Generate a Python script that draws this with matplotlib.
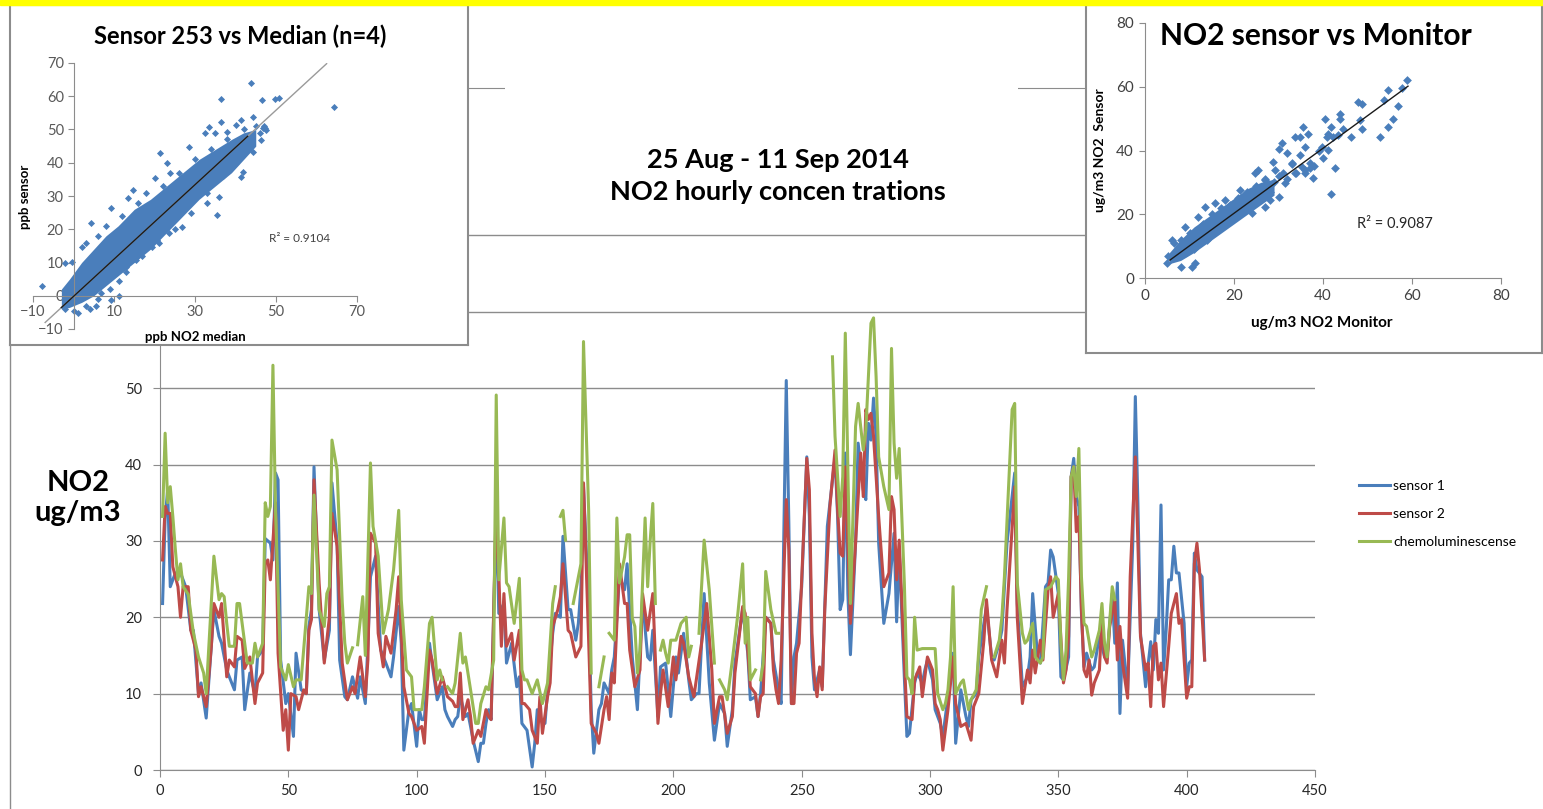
import numpy as np
import matplotlib
matplotlib.use("Agg")
import matplotlib.pyplot as plt
from matplotlib.lines import Line2D
from matplotlib.patches import Rectangle

plt.rcParams["font.family"] = ["Lato", "DejaVu Sans"]

W, H = 1543, 809


def fx(px):
    return px / W


def fy(py):
    return 1 - py / H


nan = float("nan")

# ---------- main chart: hourly NO2 (hour index, ug/m3)
s1_hours = [1, 2, 3, 4, 6, 8, 10, 12, 13, 15, 16, 18, 21, 23, 24, 26, 27, 29, 30, 32, 33, 35, 37, 38, 40, 41, 43, 44, 45, 46, 47, 49, 50, 52, 53, 55, 57,
            58, 59, 60, 62, 64, 66, 67, 69, 70, 72, 73, 75, 77, 78, 80, 81, 82, 84, 86, 88, 90, 91, 93, 94, 95, 97, 98, 100, 101, 102, 103, 105, 106, 108, 110, 111, 112, 114,
            115, 116, 117, 119, 120, 121, 122, 124, 125, 126, 127, 128, 129, 131, 132, 134, 135, 137, 139, 140, 141, 143, 145, 146, 147, 149, 150, 151, 153, 154, 156, 157, 159, 160, 162, 163, 164, 165, 167, 168, 169, 171, 172, 173,
            175, 176, 177, 179, 181, 182, 184, 186, 188, 190, 191, 192, 194, 195, 197, 199, 201, 202, 204, 206, 207, 209, 210, 212, 214, 216, 218, 220, 221, 223, 224, 227, 229, 230, 232,
            233, 234, 236, 238, 239, 241, 242, 244, 245, 246, 247, 248, 250, 252, 253, 254, 255, 257, 258, 260, 263, 264, 265, 266, 267, 268, 269, 271, 272, 274, 275, 276, 277, 278, 279, 280, 282, 284, 286, 287, 288, 290,
            291, 292, 294, 295, 297, 298, 299, 301, 302, 304, 305, 307, 309, 310, 312, 314, 315, 316, 318, 319, 322, 324, 325, 327, 328, 330, 333, 334, 336, 338, 339, 340, 342, 343, 345, 346, 347, 348,
            350, 351, 352, 354, 355, 356, 357, 358, 359, 360, 361, 363, 364, 366, 367, 368, 369, 371, 372, 373, 374, 375, 377, 379, 380, 381, 382, 384, 386, 387, 388, 389, 390, 391, 392, 393, 394, 395, 396, 397, 399, 400, 401, 402, 403, 404, 406, 407]
s1_vals = [21.8, 33, 36.7, 24, 25.8, 25.8, 24, 18.3, 18.3, 10, 11.4, 6.8, 21, 17.5, 16.6, 13.1, 12.2, 10.5, 14.4, 14.8, 7.9, 12.7, 10, 14.8, 15.7, 30.3, 29.7, 27.5, 38.9, 38, 14.4, 8.7, 10, 4.4, 15.3, 10.5, 10,
           18.8, 21, 39.7, 21, 14.4, 18.3, 37.6, 29.7, 14.4, 9.6, 9.2, 12.2, 9.4, 12.2, 8.7, 16.6, 25.3, 28, 15.7, 14, 12.2, 14.8, 21.4, 16.6, 2.6, 7.9, 8.7, 3.1, 7.9, 6.6, 6.6, 16.6, 14, 9.2, 10.9, 7.9, 7, 5.7,
           6.6, 7, 9.6, 7, 7.4, 5.7, 3.9, 1.1, 3.5, 3.5, 6.1, 7.9, 6.6, 34, 20.5, 21.8, 14, 16.6, 10.9, 12.2, 6.1, 5.2, 0.4, 3.5, 7.9, 6.1, 6.1, 10.5, 17.9, 20.5, 20, 30.6, 21, 21, 17, 19.2, 24, 37.1, 21.8, 7.9, 2.2, 7.9, 8.7, 11.4,
           10, 13.1, 14.8, 25.3, 23.6, 27, 14.8, 7.9, 22.3, 14.8, 14.4, 18.3, 7, 13.5, 14, 7, 14.8, 12.7, 17.9, 11.8, 9.2, 10, 10, 23.1, 11.4, 3.9, 8.7, 7.4, 3.1, 7.9, 14, 21, 15.3, 9.2, 9.6,
           7, 10, 20, 19.2, 14.4, 10.5, 8.7, 51, 32.3, 8.7, 14.8, 16.6, 24, 41, 33.2, 14.8, 10.5, 13.1, 10.9, 31.9, 41, 33.2, 21, 22.3, 41.5, 23.1, 15.1, 29.7, 42.8, 36.7, 35.4, 45.4, 43.2, 48.7, 43.7, 29.7, 19.2, 23.1, 31, 19.4, 28.8, 12.2,
           4.4, 4.8, 11.4, 12.7, 11.4, 13.1, 14.4, 11.8, 7.9, 6.1, 4.4, 9.6, 15.3, 3.5, 10.5, 7, 5.7, 9.2, 10, 14.8, 21.4, 14.8, 14.4, 16.6, 18.3, 29.7, 38.9, 21.8, 10.9, 12.2, 14.8, 23.1, 14.4, 14, 24, 24.5, 28.8, 27.9,
           23.1, 12.2, 11.8, 14.8, 38.4, 40.8, 35.8, 34.5, 20.5, 13.5, 15.3, 13.1, 13.5, 17.5, 16.2, 14.8, 14.8, 23.1, 16.6, 24.5, 7.4, 17, 10.5, 29.7, 48.9, 34.9, 17.9, 10.9, 16.8, 13.1, 19.7, 17.9, 34.7, 13.1, 18.3, 24.9, 24.9, 29.3, 25.8, 25.8, 19.2, 10.9, 14, 14.4, 28.4, 26.2, 25.3, 14.4]

s2_hours = [1, 2, 3, 4, 5, 6, 7, 8, 9, 11, 12, 14, 15, 16, 18, 20, 21, 23, 24, 26, 27, 29, 30, 32, 33, 35, 37, 38, 40, 41, 42, 43, 45, 46, 48, 49, 50, 51, 53, 54, 56,
            57, 58, 59, 60, 62, 64, 66, 67, 69, 71, 73, 75, 76, 78, 80, 81, 82, 84, 85, 87, 88, 90, 92, 93, 95, 97, 98, 100, 102, 103, 105, 106, 108, 110, 112, 114,
            115, 116, 117, 118, 120, 121, 122, 124, 125, 127, 128, 129, 131, 133, 134, 135, 137, 138, 140, 141, 142, 144, 145, 147, 148, 149, 151, 152, 153, 155, 156, 157, 159, 160, 162, 164, 165, 167, 168, 170, 171, 173,
            174, 175, 176, 177, 179, 181, 182, 183, 185, 187, 188, 190, 192, 194, 195, 196, 198, 200, 201, 203, 204, 206, 208, 211, 213, 215, 216, 218, 219, 221, 223, 224, 227, 228, 230, 232,
            233, 234, 235, 236, 238, 239, 240, 241, 242, 244, 245, 246, 247, 248, 249, 250, 252, 253, 254, 255, 256, 257, 258, 259, 261, 263, 264, 265, 266, 267, 268, 269, 271, 273, 274, 275, 276, 277, 278, 280, 282, 284, 285, 286, 287, 288, 290,
            291, 293, 294, 296, 297, 299, 301, 302, 303, 304, 305, 307, 309, 310, 312, 314, 316, 317, 319, 321, 322, 324, 326, 328, 329, 330, 333, 334, 336, 338, 339, 340, 341, 343, 344, 346, 347, 348,
            350, 352, 353, 354, 355, 356, 357, 358, 359, 360, 361, 362, 363, 364, 366, 367, 368, 369, 370, 372, 373, 374, 375, 377, 378, 380, 381, 382, 384, 385, 386, 387, 388, 389, 390, 391, 393, 394, 396, 397, 398, 400, 401, 402, 403, 404, 405, 407]
s2_vals = [27.5, 34.5, 33.6, 33.6, 26.6, 25.3, 24, 20, 24, 24, 18.3, 15.7, 9.6, 10.9, 8.3, 16.2, 21.8, 20, 21.8, 12.2, 14.4, 13.5, 17.5, 17, 13.3, 14.8, 8.7, 11.4, 12.7, 27, 27.5, 24.9, 35, 15.3, 5.2, 7.9, 2.6, 10, 9.6, 7.9, 10.5,
           10, 18.3, 19.7, 38, 24.5, 14, 20, 33.6, 29.3, 14, 9.2, 10.9, 10, 14.8, 9.6, 14.4, 31, 29.7, 17.9, 13.5, 17.5, 15.3, 21, 25.3, 10.9, 7.4, 7, 5.2, 5.7, 3.5, 15.7, 14.4, 10, 12.2, 9.6, 9,
           8.3, 8.3, 12.7, 6.6, 9.2, 7, 3.5, 5.2, 4.4, 7.9, 7, 6.6, 35, 16.2, 23.1, 16.2, 17.9, 14.4, 18.3, 8.7, 8.7, 7.9, 5.2, 3.5, 9.6, 4.8, 9.6, 11.4, 18.8, 21, 22.7, 27, 18.3, 17.9, 14.8, 16.2, 37.6, 17, 6.1, 4.8, 3.5, 7.9,
           9.6, 6.6, 12.7, 11.4, 27, 21.8, 21.8, 15.7, 10.9, 13.1, 23.1, 18.3, 23.1, 6.1, 10, 13.1, 8.3, 14.8, 11.8, 17.5, 16.6, 12.2, 9.6, 16.6, 21.8, 13.1, 6.1, 9.6, 9.6, 4.8, 7, 12.7, 21.4, 20.5, 10.9, 10,
           7, 9.6, 10, 20, 19.2, 13.1, 10.5, 8.7, 14.4, 35.4, 28.8, 8.7, 8.7, 15.3, 16.6, 24.9, 40.8, 36.7, 17.9, 11.8, 9.6, 13.5, 10.5, 21, 34.5, 41.9, 34.1, 28.4, 28, 39.7, 29.7, 19.2, 29.7, 41.5, 35.8, 47.2, 45.9, 46.7, 43.7, 33.2, 24, 25.8, 35.8, 34.1, 24.9, 30.1, 14.4,
           7, 6.6, 11.8, 13.5, 9.6, 14.8, 13.1, 8.7, 7.9, 6.6, 2.6, 7.9, 14.8, 8.7, 5.7, 6.1, 3.9, 8.3, 10, 17, 22.3, 14.4, 12.2, 17, 14, 21, 37.1, 20, 8.7, 13.1, 11.4, 15.7, 12.7, 17, 14.4, 23.6, 25.3, 20,
           23.1, 11.4, 13.1, 17.5, 38.4, 39.7, 31.2, 33.2, 21, 13.1, 12.2, 14.4, 9.8, 11.4, 13.1, 20, 14.8, 14, 18.8, 22.3, 14.4, 18.8, 14, 9.4, 25.3, 41, 29.7, 17.5, 13.1, 14, 8.3, 16.2, 16.6, 11.8, 14, 8.3, 16.2, 20.5, 23.1, 19.2, 19.7, 9.4, 10.9, 10.9, 27, 29.7, 26.2, 14.4]

# chemoluminescense monitor, nan = missing hours
s3_hours = [1, 2, 3, 4, 5, 6, 7, 8, 9, 11, 13, 15, 17, 18, 21, 23, 24, 25, 26, 27, 29, 30, 31, 32, 34, 36, 37, 38, 40, 41, 42, 43, 44, 45, 47, 49, 50, 52, 53, 55, 57,
            58, 59, 60, 62, 64, 65, 66, 67, 69, 71, 72, 73, 75, 76, 77, 79, 80, 82, 83, 85, 87, 89, 91, 93, 94, 96, 98, 99, 102, 103, 105, 106, 108, 109, 110, 111, 112, 114,
            115, 117, 118, 119, 121, 123, 124, 125, 127, 128, 130, 131, 132, 134, 135, 136, 138, 140, 141, 142, 143, 145, 147, 149, 151, 153, 154, 155, 156, 157, 158, 160, 161, 164, 165, 167, 168, 169, 171, 173,
            174, 175, 177, 178, 179, 181, 182, 183, 184, 185, 186, 187, 189, 190, 191, 192, 193, 194, 195, 196, 197, 198, 199, 201, 203, 205, 206, 207, 208, 210, 212, 214, 216, 217, 218, 220, 221, 223, 225, 227, 228, 229, 230, 232,
            233, 234, 235, 236, 238, 240, 241, 242, 262, 263, 265, 266, 267, 269, 271, 272, 274, 275, 277, 278, 279, 280, 282, 284, 285, 286, 287, 288, 290,
            291, 292, 293, 294, 295, 297, 299, 301, 302, 303, 305, 306, 307, 308, 309, 310, 312, 313, 315, 316, 318, 320, 322, 323, 325, 327, 328, 329, 332, 333, 334, 336, 337, 338, 340, 341, 343, 344, 345, 347,
            349, 350, 351, 352, 353, 354, 355, 356, 357, 358, 359, 360, 361, 363, 364, 366, 367, 368, 369, 371, 372]
s3_vals = [33.2, 44.1, 35, 37.1, 33.2, 28.8, 24.9, 27, 24, 23, 18, 14.8, 12.7, 10, 28, 22.3, 23.1, 22.7, 19.2, 16.2, 16.2, 21.8, 21.8, 19.2, 14, 14, 16.6, 14.8, 16.6, 35, 33.2, 34.5, 53, 34, 13.5, 11.8, 13.8, 10.9, 11.8, 11.8, 20,
           24, 23.1, 36, 21, 18.8, 23.1, 24, 43.2, 39.3, 22, 16.6, 14, 16, nan, 16.4, 22.7, 15, 40.2, 31.9, 28, 17.9, 21, 26.2, 34, 22.3, 13.1, 12.2, 7.9, 7.9, 10.9, 19.2, 20, 11.8, 13.1, 11.8, nan, 10.9, 10,
           11.4, 17.9, 14, 14.8, 10.5, 6.1, 6.1, 8.7, 10.9, 10.5, 14.4, 49.1, 24.9, 33, 24.5, 24, 19.2, 25.1, 13.1, 11.8, 11.8, 10, 11.8, 8.7, 11.4, 21.8, 24, nan, 33.2, 34, 30.1, nan, 21.8, 27, 56.1, 34, 12.7, nan, 10.9, 14.8,
           nan, 17.9, 17, 33, 24.5, 27.9, 30.8, 30.8, 19.9, 18.8, 12.7, 15.7, 33, 24, 30.1, 34.9, 21.8, nan, 15.7, 17, 15.3, 14, 17, 17, 19.2, 20, 14.8, 16.2, nan, 17.9, 30.1, 23.6, 14, nan, 11.8, 10.5, 9.2, 14.4, 20, 27, 16.6, 20, 11.8, 13.1,
           nan, 11.8, 14, 26, 21, 17.9, 17.9, nan, 54.1, 43.7, 33.2, 38.4, 57.2, 21.8, 45, 48, 41.9, 44.5, 58.5, 59.2, 51.5, 41, 37.1, 34.1, 55.2, 42.8, 38.2, 42.1, 24.5,
           12.2, 11.8, 10, 20, 15.7, 15.9, 15.9, 15.9, 15.9, 10, 7.9, 8.7, 10.5, 14.8, 24, 10, 11.4, 11.8, 7.9, 9.2, 10.5, 21, 24, nan, 14.8, 17, 20, 25.3, 47.2, 48, 24.5, 17.9, 16.6, 17, 19.2, 14.8, 14, 14.8, 23.6, 24,
           25.3, 24.9, 16.6, 11.8, 15.7, 25.1, 38.4, 39.7, 35.8, 42.1, 25.3, 19.2, 18.8, 14.8, 15.7, 18.3, 21.8, 16.6, 14.8, 24, 22.3]

series_names = ["sensor 1", "sensor 2", "chemoluminescense"]
x_ticks = list(range(0, 451, 50))
y_ticks = list(range(0, 71, 10))

# ---------- inset 1: sensor 253 vs median (ppb)
m1_x = [43.8, 36.5, 46.5, 49.7, 50.8, 64.2, 44.3, 41.3, 36.3, 33.5, 32.5, 35, 38, 40, 28.5, 21.3, 23, 20, 23.8, 14.8, 13.5, 9.3, 4.3, 2.2, -2, -0.3, -7.8, 1, 5.5, 9.3, 11.3, 36, 35.5, 33, 41.8, 41.3, 44.3, 47.5, 46.3, 46.8, 47.3, 43.5, 25, 26.8, 23.5, 20.5, 19.3, 15.5, 13, 11.3, 6.8, 33.5, 31.3]
m1_y = [64, 59.2, 59, 59.2, 59.5, 56.8, 53.7, 52.8, 52.3, 50.8, 48.9, 49, 49.2, 51.3, 44.7, 42.9, 39.9, 35.4, 36.9, 31.8, 29.4, 26.4, 21.9, 14.7, 9.9, 10.2, 3, -5.1, -3, -1.2, 0, 29.7, 24.3, 28, 37.2, 35.7, 43.2, 49.8, 46.8, 50.6, 50.4, 45.9, 26.7, 20.7, 18.9, 16.8, 14.7, 10.8, 8.7, 4.5, 0.9, 37.8, 36.8]
e1_x = [3, 6, 8, 12, 16, 18, 22, 26, 30, 34, 38, 42, 45, 47, 46, 44, 40, 37, 33, 29, 25, 21, 17, 13, 9, 6, 3, 0, -2, 4]
e1_y = [16, 18, 21, 24, 28, 31, 33, 37, 41, 44, 47, 50, 51, 51, 49, 47, 40, 36, 31, 25, 20, 16, 12, 7, 2, -1, -3, -4.5, -4, -4]
# dense core of the cloud (too many points to read one by one)
c1_x = [-3, -1, 2, 5, 8, 11, 15, 19, 23, 27, 31, 35, 39, 42, 45]
c1_lo = [-4, -3.5, -2, 0, 3, 6, 10, 14, 19, 24, 29, 33, 37, 41, 45]
c1_hi = [2, 5, 10, 14, 18, 21, 26, 29, 33, 37, 41, 44, 47, 49, 50]
fit1_slope, fit1_icpt = 1.12, -0.2

# ---------- inset 2: NO2 sensor vs monitor (ug/m3)
m2_x = [58.8, 57.7, 54.7, 53.6, 56.8, 55.8, 54.7, 52.8, 47.9, 48.7, 48.3, 48.7, 46.4, 43.8, 43.8, 44.6, 40.4, 41.9, 41.2, 40.8, 42.3, 43.4, 39.7, 41.2, 40.1, 42.7, 41.8, 35.6, 33.6, 34.8, 35.9, 34.8, 36.7, 37.1, 37.8, 30.7, 30, 31.8, 33, 33.7, 35.2, 35.9, 28.8, 29.2, 30, 31.5, 27, 25.5, 24.7, 27, 25.8, 28.1, 24, 21.7, 21.3, 18, 15.7, 13.5, 6, 5.2, 4.9, 8.2, 10.5, 11.2, 9]
m2_y = [62, 59.7, 58.9, 55.7, 54, 50, 47.4, 44.3, 55.2, 54.7, 49.5, 46.6, 44.3, 51.6, 50, 46.9, 50, 47.4, 45.3, 44.3, 44.3, 44.8, 41.1, 40.1, 37.5, 34.4, 26.3, 47.4, 44.3, 44.3, 41.1, 38.5, 45.3, 34.4, 31.3, 42.2, 40.6, 39.1, 35.9, 32.8, 34.9, 32.8, 36.5, 33.9, 25.5, 29.7, 30.7, 33.9, 32.8, 22.4, 24.5, 24.5, 20.3, 24.5, 27.6, 24.5, 23.4, 22.4, 12, 6.8, 4.7, 3.6, 3.6, 4.7, 7.8]
e2_x = [7, 8, 10, 11, 13, 14, 15, 16, 17, 18, 19, 20, 21, 22, 23, 24, 25, 26, 27, 28, 29, 30, 31, 32, 33, 34, 36, 37, 38, 39, 12, 9, 6.5]
e2_y = [8, 12, 14, 9, 17, 12, 20, 15, 22, 17, 23, 19, 25, 21, 27, 24, 29, 26, 31, 27, 30, 32, 33, 31, 36, 33, 34, 36, 35, 40, 19, 16, 11]
c2_x = [5.5, 8, 11, 14, 17, 20, 23, 26, 29]
c2_lo = [4.5, 5.5, 8, 11, 14, 17, 20, 23, 26]
c2_hi = [8, 12, 16, 19, 22, 25, 28, 30, 31]
fit2_slope, fit2_icpt = 1.02, -0.1

BLUE = "#4A7EBB"
RED = "#BE4B48"
GREEN = "#98B954"
GRID = "#8C8C8C"

fig = plt.figure(figsize=(W / 100, H / 100), dpi=100)
fig.patch.set_facecolor("white")

# ----- main time series
ax = fig.add_axes([fx(160), fy(770), 1155 / W, 682 / H], zorder=1)
ax.plot(s1_hours, s1_vals, color=BLUE, lw=2.2, label=series_names[0])
ax.plot(s2_hours, s2_vals, color=RED, lw=2.2, label=series_names[1])
ax.plot(s3_hours, s3_vals, color=GREEN, lw=2.2, label=series_names[2])
ax.set_xlim(0, 450)
ax.set_ylim(0, 89.3)
ax.set_xticks(x_ticks)
ax.set_yticks(y_ticks)
ax.grid(axis="y", color=GRID, lw=1)
ax.set_axisbelow(True)
ax.spines["right"].set_visible(False)
for s in ["left", "bottom", "top"]:
    ax.spines[s].set_color(GRID)
ax.tick_params(direction="out", length=5, color=GRID, labelsize=10.5, labelcolor="#262626")
ax.tick_params(axis="x", pad=5)
ax.tick_params(axis="y", pad=8)
ax.legend(loc="center left", bbox_to_anchor=(fx(1346), fy(514)), bbox_transform=fig.transFigure,
          frameon=False, fontsize=10, handlelength=2.3, handletextpad=0.2, labelspacing=1.15)

fig.text(fx(78), fy(498), "NO2\nug/m3", ha="center", va="center", fontsize=21, fontweight="bold", linespacing=1.2)

# outer border of the slide chart
fig.add_artist(Line2D([fx(10), fx(10)], [0, fy(5)], color=GRID, lw=1, zorder=0.5))

# title box
tbox = fig.add_axes([fx(505), fy(226), 513 / W, 170 / H], zorder=4)
tbox.set_xticks([])
tbox.set_yticks([])
for s in tbox.spines.values():
    s.set_visible(False)
fig.text(fx(778), fy(176), "25 Aug - 11 Sep 2014\nNO2 hourly concen trations", ha="center", va="center",
         fontsize=19.5, fontweight="bold", linespacing=1.35, zorder=7)

# ----- inset boxes
for box in [(10, 5, 468, 345), (1086, 5, 1542, 353)]:
    b = fig.add_axes([fx(box[0]), fy(box[3]), (box[2] - box[0]) / W, (box[3] - box[1]) / H], zorder=5)
    b.set_xticks([])
    b.set_yticks([])
    for s in b.spines.values():
        s.set_color(GRID)
        s.set_linewidth(1.5)

# left scatter
sc1 = fig.add_axes([fx(33), fy(329), 324 / W, 266 / H], zorder=6)
sc1.patch.set_alpha(0)
sc1.fill_between(c1_x, c1_lo, c1_hi, color=BLUE, lw=0, zorder=2)
sc1.scatter(m1_x, m1_y, marker="D", s=13, color=BLUE, lw=0, zorder=2)
sc1.scatter(e1_x, e1_y, marker="D", s=13, color=BLUE, lw=0, zorder=2)
fx1 = np.array([-7, 62.5])
sc1.plot(fx1, fit1_slope * fx1 + fit1_icpt, color="#9A9A9A", lw=1, zorder=3)
fx1b = np.array([-3, 43])
sc1.plot(fx1b, fit1_slope * fx1b + fit1_icpt, color="#1A1A1A", lw=1, zorder=3)
sc1.set_xlim(-10, 70)
sc1.set_ylim(-10, 70)
sc1.spines["left"].set_position(("data", 0))
sc1.spines["bottom"].set_position(("data", 0))
sc1.spines["top"].set_visible(False)
sc1.spines["right"].set_visible(False)
sc1.spines["left"].set_color(GRID)
sc1.spines["bottom"].set_color(GRID)
sc1.set_xticks([-10, 10, 30, 50, 70])
sc1.set_yticks(list(range(-10, 71, 10)))
sc1.tick_params(direction="out", length=4, color=GRID, labelsize=10.5, labelcolor="#595959", pad=3)
fig.text(fx(240), fy(36), "Sensor 253 vs Median (n=4)", ha="center", va="center", fontsize=17, fontweight="bold", zorder=7)
fig.text(fx(25), fy(197), "ppb sensor", ha="center", va="center", rotation=90, fontsize=9.5, fontweight="bold", zorder=7)
fig.text(fx(195), fy(337), "ppb NO2 median", ha="center", va="center", fontsize=9.5, fontweight="bold", zorder=7)
fig.text(fx(300), fy(238), "R² = 0.9104", ha="center", va="center", fontsize=8.5, color="#404040", zorder=7)

# right scatter
sc2 = fig.add_axes([fx(1145), fy(278), 356 / W, 255 / H], zorder=6)
sc2.patch.set_alpha(0)
sc2.fill_between(c2_x, c2_lo, c2_hi, color=BLUE, lw=0, zorder=2)
sc2.scatter(m2_x, m2_y, marker="D", s=20, color=BLUE, lw=0, zorder=2)
sc2.scatter(e2_x, e2_y, marker="D", s=20, color=BLUE, lw=0, zorder=2)
fx2 = np.array([5.6, 59.1])
sc2.plot(fx2, fit2_slope * fx2 + fit2_icpt, color="#1A1A1A", lw=1, zorder=3)
sc2.set_xlim(0, 80)
sc2.set_ylim(0, 80)
sc2.spines["top"].set_visible(False)
sc2.spines["right"].set_visible(False)
sc2.spines["left"].set_color(GRID)
sc2.spines["bottom"].set_color(GRID)
sc2.set_xticks([0, 20, 40, 60, 80])
sc2.set_yticks([0, 20, 40, 60, 80])
sc2.tick_params(direction="out", length=4, color=GRID, labelsize=11, labelcolor="#404040", pad=4)
fig.text(fx(1316), fy(36), "NO2 sensor vs Monitor", ha="center", va="center", fontsize=21.5, fontweight="bold", zorder=7)
fig.text(fx(1100), fy(150), "ug/m3 NO2  Sensor", ha="center", va="center", rotation=90, fontsize=10, fontweight="bold", zorder=7)
fig.text(fx(1322), fy(323), "ug/m3 NO2 Monitor", ha="center", va="center", fontsize=11, fontweight="bold", zorder=7)
fig.text(fx(1395), fy(224), "R² = 0.9087", ha="center", va="center", fontsize=10.5, color="#262626", zorder=7)

# yellow strip along the top
fig.add_artist(Rectangle((0, fy(5)), 1, 5 / H, transform=fig.transFigure, color="#FFFF00", zorder=10))

fig.savefig("out.png", dpi=100)
